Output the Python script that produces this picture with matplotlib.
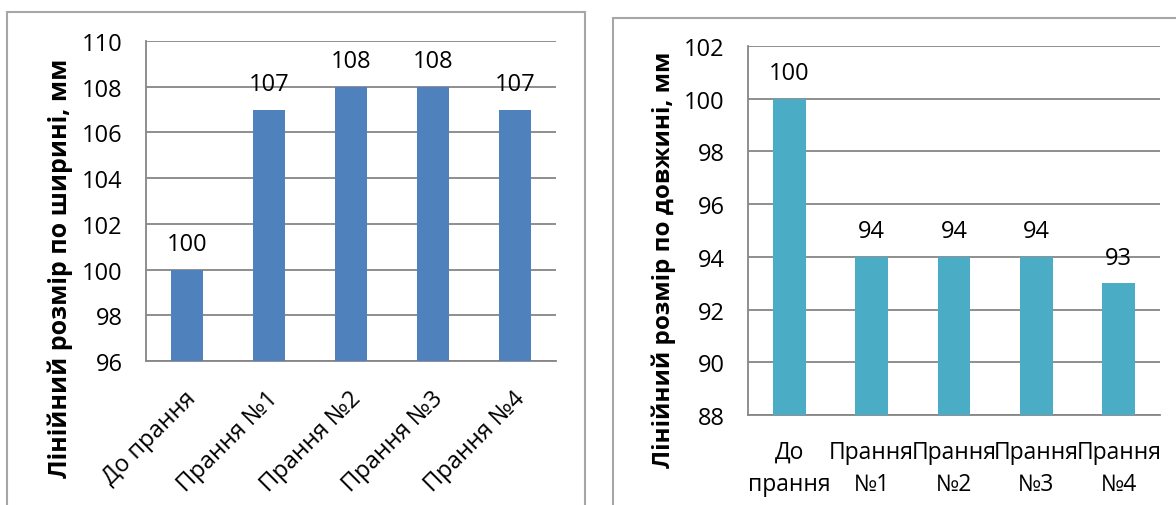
import matplotlib
matplotlib.use("Agg")
import matplotlib.pyplot as plt
from matplotlib.patches import Rectangle
import matplotlib.transforms as mtransforms

plt.rcParams['font.family'] = ['Open Sans', 'DejaVu Sans']

# data
width_cats = ["До прання", "Прання №1", "Прання №2", "Прання №3", "Прання №4"]
width_vals = [100, 107, 108, 108, 107]
length_cats = ["До\nпрання", "Прання\n№1", "Прання\n№2", "Прання\n№3", "Прання\n№4"]
length_vals = [100, 94, 94, 94, 93]

W, H = 1176, 506
fig = plt.figure(figsize=(W / 100, H / 100), dpi=100)

grid_col = '#868686'
fs = 17


def px(x0, y0, x1, y1):
    # pixel box (top-left origin) -> figure fraction [l, b, w, h]
    return [x0 / W, 1 - y1 / H, (x1 - x0) / W, (y1 - y0) / H]


# chart frames
fig.patches.append(Rectangle((7 / W, -0.1), (585 - 7) / W, 1.1 - 13 / H,
                             transform=fig.transFigure, fill=False,
                             edgecolor='#a6a6a6', lw=1.5, clip_on=False))
fig.patches.append(Rectangle((613 / W, -0.1), 0.5, 1.1 - 19 / H,
                             transform=fig.transFigure, fill=False,
                             edgecolor='#a6a6a6', lw=1.5, clip_on=False))


def style(ax, lo, hi):
    ax.set_ylim(lo, hi)
    ax.set_yticks(range(lo, hi + 1, 2))
    ax.set_xlim(-0.5, 4.5)
    ax.yaxis.grid(True, color=grid_col, lw=1.3)
    ax.set_axisbelow(True)
    for s in ['top', 'right']:
        ax.spines[s].set_visible(False)
    for s in ['left', 'bottom']:
        ax.spines[s].set_color(grid_col)
        ax.spines[s].set_linewidth(1.3)
    ax.tick_params(length=0, labelsize=fs, pad=17)


# left chart
ax1 = fig.add_axes(px(146, 42, 556, 362))
x = range(len(width_vals))
bars = ax1.bar(x, width_vals, width=0.4, color='#4f81bd', zorder=3)
style(ax1, 96, 110)
for xi, v in zip(x, width_vals):
    ax1.annotate(str(v), (xi, v), xytext=(0, 14), textcoords='offset points',
                 ha='center', va='baseline', fontsize=fs)
ax1.set_xticks(list(x))
ax1.set_xticklabels(width_cats, rotation=45, ha='right', va='center',
                    rotation_mode='anchor')
ax1.tick_params(axis='x', pad=24)
off = mtransforms.ScaledTranslation(0.06, 0, fig.dpi_scale_trans)
for lab in ax1.get_xticklabels():
    lab.set_transform(lab.get_transform() + off)
fig.text(60 / W, 1 - 268 / H, "Лінійний розмір по ширині, мм", rotation=90,
         ha='center', va='center', fontsize=18, fontweight='bold')

# right chart
ax2 = fig.add_axes(px(748, 47, 1160, 416))
x = range(len(length_vals))
ax2.bar(x, length_vals, width=0.4, color='#4bacc6', zorder=3)
style(ax2, 88, 102)
for xi, v in zip(x, length_vals):
    ax2.annotate(str(v), (xi, v), xytext=(0, 14), textcoords='offset points',
                 ha='center', va='baseline', fontsize=fs)
ax2.set_xticks(list(x))
ax2.set_xticklabels(length_cats, linespacing=1.45, fontsize=16.5)
ax2.tick_params(axis='x', pad=18)
fig.text(664 / W, 1 - 260 / H, "Лінійний розмір по довжині, мм", rotation=90,
         ha='center', va='center', fontsize=17.5, fontweight='bold')

fig.savefig("out.png", dpi=100)
